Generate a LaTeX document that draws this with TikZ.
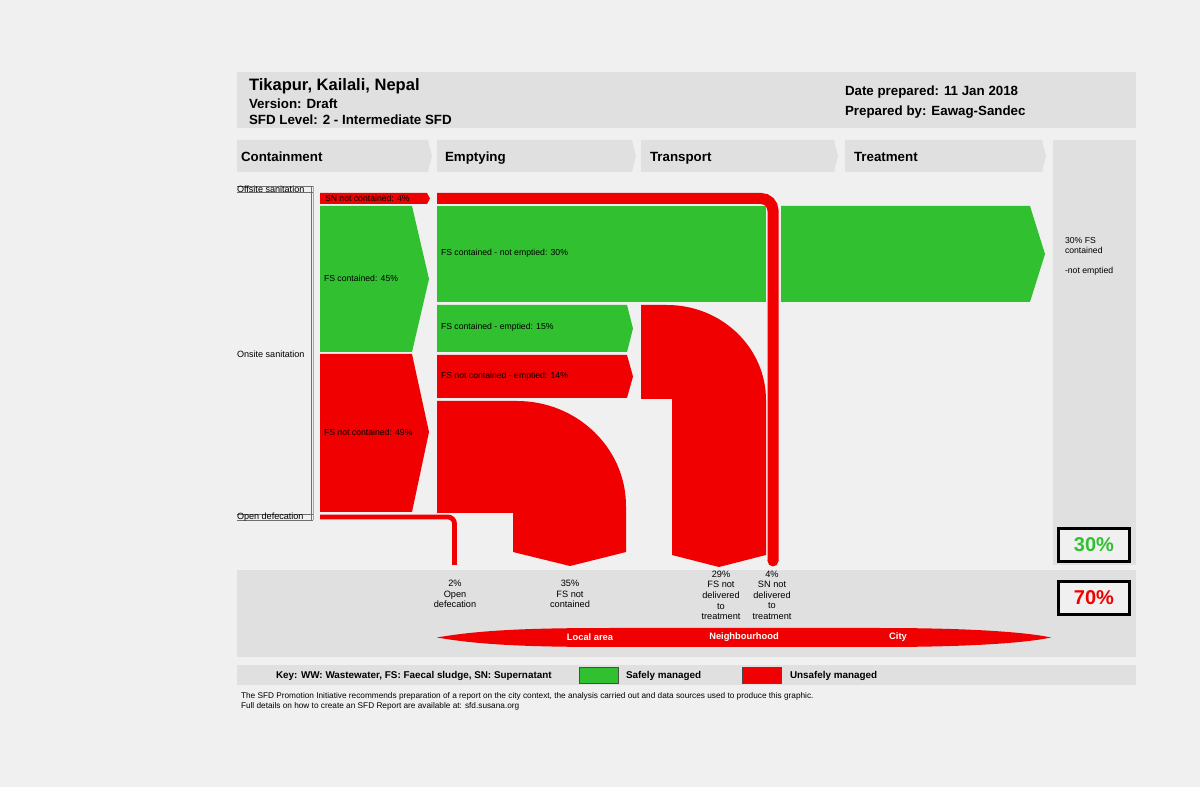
\documentclass[tikz,border=0pt]{standalone}
\usepackage{fontspec}
\setmainfont{Liberation Sans}
\definecolor{bgc}{RGB}{240,240,240}
\definecolor{panel}{RGB}{224,224,224}
\definecolor{sgreen}{RGB}{48,192,48}
\definecolor{ured}{RGB}{240,0,0}
\definecolor{brk}{RGB}{110,110,110}
\begin{document}
\begin{tikzpicture}[x=0.75pt,y=-0.75pt,
  every node/.style={inner sep=0pt,outer sep=0pt},
  hdr/.style={anchor=west,font=\bfseries\fontsize{10}{12}\selectfont},
  stage/.style={anchor=west,font=\bfseries\fontsize{10}{12}\selectfont},
  flowlbl/.style={anchor=west,font=\fontsize{6.5}{7.5}\selectfont},
  sidelbl/.style={anchor=west,font=\fontsize{6.8}{7.5}\selectfont},
  botlbl/.style={anchor=north,align=center,font=\fontsize{6.9}{7.9}\selectfont},
  arealbl/.style={text=white,font=\bfseries\fontsize{7}{8}\selectfont},
  chev/.style={fill=panel},
  pctbox/.style={draw=black,line width=2.2pt,fill=bgc,minimum width=53pt,minimum height=25pt,font=\bfseries\fontsize{15}{17}\selectfont},
  keytxt/.style={anchor=west,font=\bfseries\fontsize{7.4}{8}\selectfont},
  foot/.style={anchor=west,font=\fontsize{6.2}{7}\selectfont}]
% background
\fill[bgc] (0,0) rectangle (1200,787);
\useasboundingbox (0,0) rectangle (1200,787);
% header
\fill[panel] (237,72) rectangle (1136,128);
\node[hdr,font=\bfseries\fontsize{12.4}{14}\selectfont] (title) at (249,86) {Tikapur, Kailali, Nepal};
\node[hdr] (version) at (249,103.5) {Version: Draft};
\node[hdr] (level) at (249,119.5) {SFD Level: 2 - Intermediate SFD};
\node[hdr] (date) at (845,92.5) {Date prepared: 11 Jan 2018};
\node[hdr] (prep) at (845,112.5) {Prepared by: Eawag-Sandec};
% stage chevrons
\fill[chev] (237,140) -- (428,140) -- (432,156) -- (428,172) -- (237,172) -- cycle;
\fill[chev] (437,140) -- (632,140) -- (636,156) -- (632,172) -- (437,172) -- cycle;
\fill[chev] (641,140) -- (834,140) -- (838,156) -- (834,172) -- (641,172) -- cycle;
\fill[chev] (845,140) -- (1042,140) -- (1046,156) -- (1042,172) -- (845,172) -- cycle;
\node[stage,anchor=base west] (containment) at (241,162) {Containment};
\node[stage,anchor=base west] (emptying) at (445,162) {Emptying};
\node[stage,anchor=base west] (transport) at (650,162) {Transport};
\node[stage,anchor=base west] (treatment) at (854,162) {Treatment};
% right column and bottom band
\fill[panel] (1053,140) rectangle (1136,565);
\fill[panel] (237,570) rectangle (1136,657);
% left bracket
\draw[brk,line width=0.6pt] (237,186) -- (313,186) (237,192) -- (313,192);
\draw[brk,line width=0.6pt] (237,514) -- (313,514) (237,520) -- (313,520);
\draw[brk,line width=0.6pt] (311.5,186) -- (311.5,520);
\draw[brk!60,line width=0.6pt] (313.5,186) -- (313.5,520);
\node[sidelbl] (offsite) at (237,189.5) {Offsite sanitation};
\node[sidelbl] (onsite) at (237,354) {Onsite sanitation};
\node[sidelbl] (opendef) at (237,517.5) {Open defecation};
% containment flows
\fill[ured] (320,193) -- (427,193) -- (430,198.5) -- (427,204) -- (320,204) -- cycle;
\fill[sgreen] (320,206) -- (412,206) -- (429,279) -- (412,352) -- (320,352) -- cycle;
\fill[ured] (320,354) -- (412,354) -- (429,432) -- (412,512) -- (320,512) -- cycle;
\node[flowlbl] (snnc) at (325,198.5) {SN not contained: 4\%};
\node[flowlbl] (fsc) at (324,278) {FS contained: 45\%};
\node[flowlbl] (fsnc) at (324,432) {FS not contained: 49\%};
% SN line to transport
\draw[ured,line width=8.25pt,rounded corners=9pt] (437,198.5) -- (773,198.5) -- (773,561);
\fill[ured] (773,561) circle[radius=4.1pt];
% open defecation line
\draw[ured,line width=3.6pt,rounded corners=5pt] (320,517) -- (454.5,517) -- (454.5,565);
% emptying flows
\fill[sgreen] (437,206) rectangle (766,302);
\fill[sgreen] (781,206) -- (1030,206) -- (1045,254) -- (1030,302) -- (781,302) -- cycle;
\fill[sgreen] (437,305) -- (627,305) -- (633,328.5) -- (627,352) -- (437,352) -- cycle;
\fill[ured] (437,355) -- (627,355) -- (633,376.5) -- (627,398) -- (437,398) -- cycle;
\node[flowlbl] (fscne) at (441,253) {FS contained - not emptied: 30\%};
\node[flowlbl] (fsce) at (441,327) {FS contained - emptied: 15\%};
\node[flowlbl] (fsnce) at (441,376) {FS not contained - emptied: 14\%};
% 35% elbow
\fill[ured] (437,401) -- (517,401) .. controls (577,401) and (626,448) .. (626,506)
  -- (626,552) -- (570,566) -- (513,552) -- (513,513) -- (437,513) -- cycle;
% 29% elbow
\fill[ured] (641,305) -- (667,305) .. controls (722,305) and (766,348) .. (766,400)
  -- (766,555) -- (719,567) -- (672,555) -- (672,399) -- (641,399) -- cycle;
% right column text
\node[flowlbl,align=left,anchor=north west] (notempt) at (1065,237.5) {30\% FS\\contained\\[7.5pt]-not emptied};
\node[pctbox,text=sgreen] (safe) at (1094,545) {30\%};
\node[pctbox,text=ured] (unsafe) at (1094,598) {70\%};
% bottom labels
\node[botlbl] (od) at (455,580.5) {2\%\\Open\\defecation};
\node[botlbl] (nc) at (570,580.5) {35\%\\FS not\\contained};
\node[botlbl] (nd) at (721,571) {29\%\\FS not\\delivered\\to\\treatment};
\node[botlbl] (snd) at (772,571) {4\%\\SN not\\delivered\\to\\treatment};
% area lens
\fill[ured] (437,637.5) .. controls (480,630) and (530,628) .. (610,628) -- (880,628)
  .. controls (980,628) and (1030,633) .. (1051,637.5)
  .. controls (1030,642) and (980,647) .. (880,647) -- (610,647)
  .. controls (530,647) and (480,645) .. (437,637.5) -- cycle;
\node[arealbl] (local) at (590,637.5) {Local area};
\node[arealbl] (neigh) at (744,637.5) {Neighbourhood};
\node[arealbl] (city) at (898,637.5) {City};
% key
\fill[panel] (237,665) rectangle (1136,685);
\node[keytxt] (keylbl) at (276,675.5) {Key: WW: Wastewater, FS: Faecal sludge, SN: Supernatant};
\draw[fill=sgreen,draw=black!70,line width=0.5pt] (579,667) rectangle (618,683);
\node[keytxt] (safelbl) at (626,675.5) {Safely managed};
\draw[fill=ured,draw=black!70,line width=0.5pt] (742,667) rectangle (781,683);
\node[keytxt] (unsafelbl) at (790,675.5) {Unsafely managed};
\node[foot] (foot1) at (241,696) {The SFD Promotion Initiative recommends preparation of a report on the city context, the analysis carried out and data sources used to produce this graphic.};
\node[foot] (foot2) at (241,706.5) {Full details on how to create an SFD Report are available at: sfd.susana.org};
\end{tikzpicture}
\end{document}
